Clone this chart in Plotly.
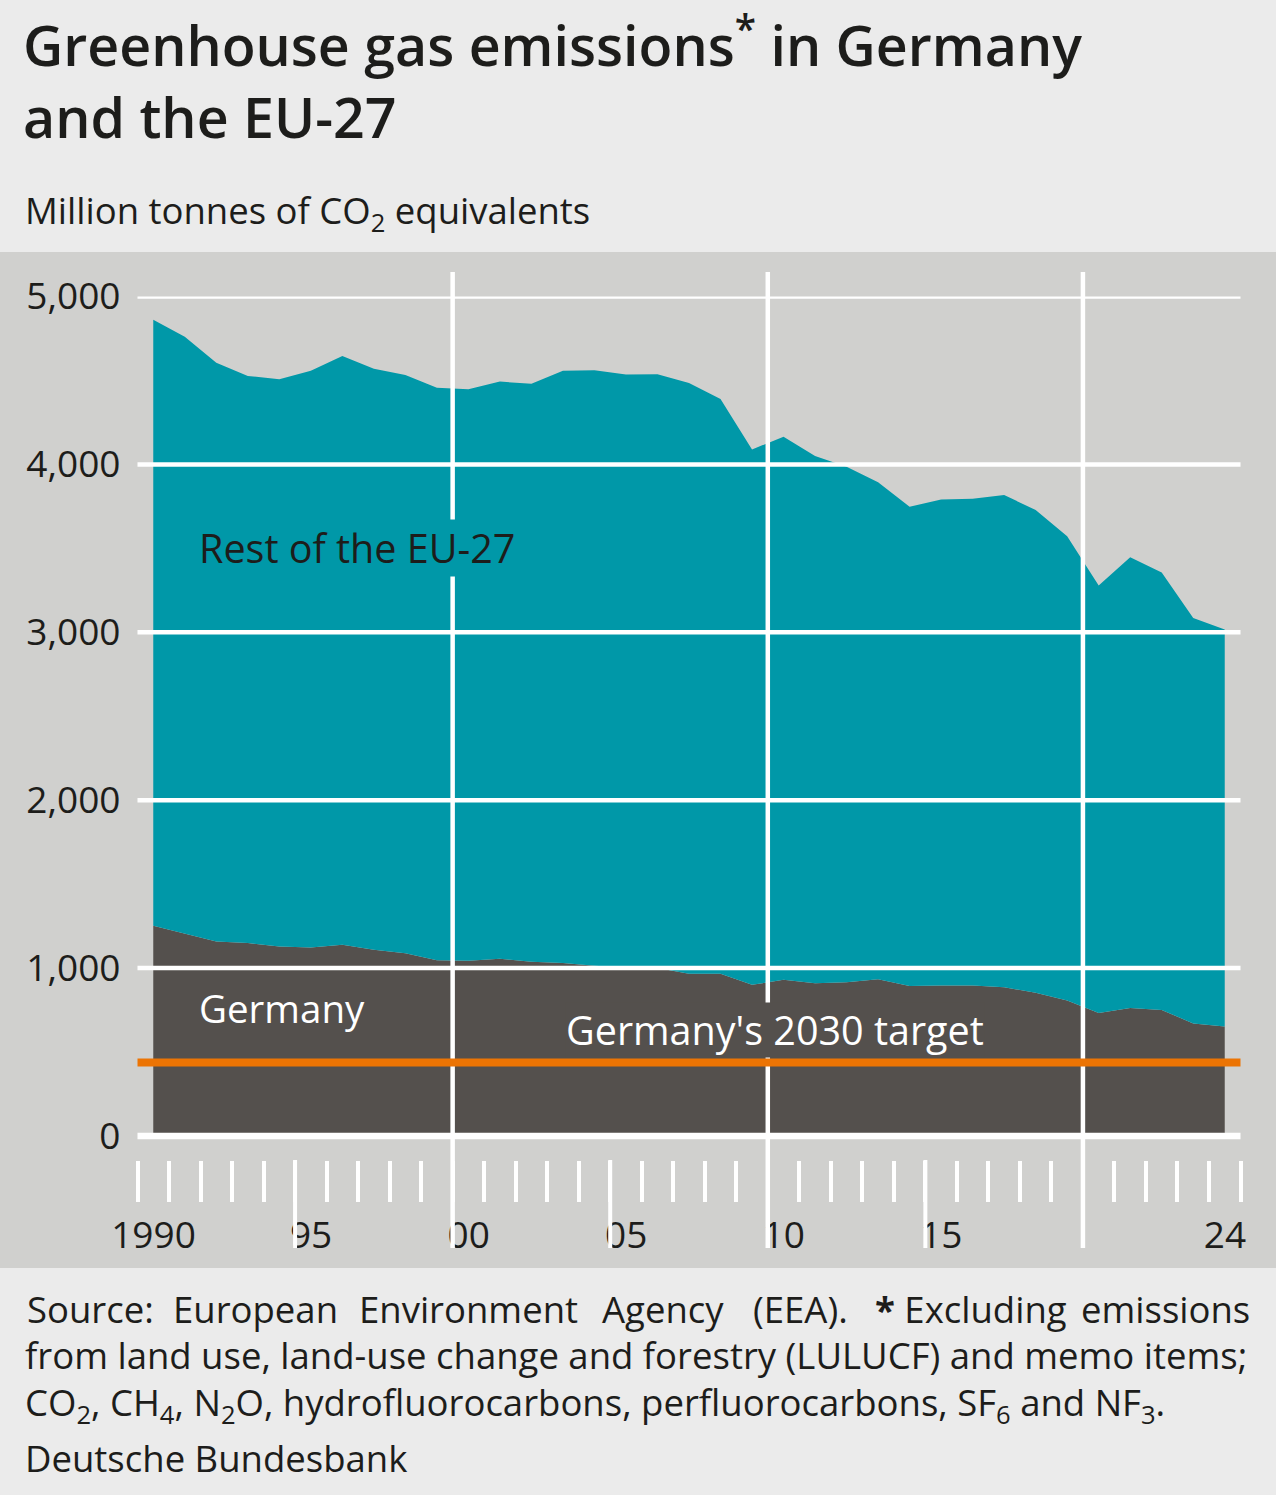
import plotly.graph_objects as go

# EEA data, million tonnes CO2 equivalents
years = list(range(1990, 2025))
eu27_total = [4861, 4761, 4606, 4527, 4507, 4558, 4646, 4570, 4533, 4457,
              4447, 4493, 4481, 4558, 4560, 4535, 4537, 4485, 4390, 4089,
              4165, 4050, 3986, 3893, 3747, 3791, 3795, 3817, 3729, 3572,
              3278, 3447, 3356, 3085, 3016]
germany = [1252, 1206, 1159, 1149, 1129, 1123, 1139, 1109, 1089, 1046,
           1044, 1055, 1038, 1030, 1014, 1004, 1000, 966, 966, 900,
           930, 910, 916, 934, 894, 896, 896, 886, 853, 807,
           732, 762, 751, 670, 652]
germany_target_2030 = 438

y_ticks = [0, 1000, 2000, 3000, 4000, 5000]
y_text = ["0", "1,000", "2,000", "3,000", "4,000", "5,000"]
label_years = [1990, 1995, 2000, 2005, 2010, 2015, 2024]
label_text = ["1990", "95", "00", "05", "10", "15", "24"]
decade_lines = [2000, 2010, 2020]
long_ticks = [1995, 2005, 2015]

W, H = 1276, 1495
FONT = "Open Sans"
TXT = "#1d1d1b"
TEAL = "#0098a8"
DARK = "#54504d"
PANEL = "#d0d0ce"
LIGHT = "#ebebeb"
ORANGE = "#ec7404"


def py(p):
    # pixel row -> paper fraction
    return 1 - p / H


def px(p):
    return p / W


# values sit in the middle of each year
xs = [y + 0.5 for y in years]

fig = go.Figure()
fig.add_trace(go.Scatter(x=xs, y=germany, mode="lines", line=dict(width=0),
                         fill="tozeroy", fillcolor=DARK, name="Germany",
                         hoverinfo="skip"))
fig.add_trace(go.Scatter(x=xs, y=eu27_total, mode="lines", line=dict(width=0),
                         fill="tonexty", fillcolor=TEAL, name="Rest of the EU-27",
                         hoverinfo="skip"))

shapes = [
    dict(type="rect", xref="paper", yref="paper", x0=0, x1=1, y0=py(244), y1=1,
         fillcolor=LIGHT, line_width=0, layer="below"),
    dict(type="rect", xref="paper", yref="paper", x0=0, x1=1, y0=py(1268), y1=py(252),
         fillcolor=PANEL, line_width=0, layer="below"),
    dict(type="rect", xref="paper", yref="paper", x0=0, x1=1, y0=0, y1=py(1276),
         fillcolor=LIGHT, line_width=0, layer="below"),
]
for v in y_ticks:
    shapes.append(dict(type="line", xref="x domain", yref="y", x0=0, x1=1, y0=v, y1=v,
                       line=dict(color="white", width=6.5 if v == 0 else 4.5),
                       layer="above"))
for d in decade_lines:
    shapes.append(dict(type="line", xref="x", yref="paper", x0=d, x1=d,
                       y0=py(1248), y1=py(272),
                       line=dict(color="white", width=4.5), layer="above"))
for t in long_ticks:
    shapes.append(dict(type="line", xref="x", yref="paper", x0=t, x1=t,
                       y0=py(1248), y1=py(1160),
                       line=dict(color="white", width=4), layer="above"))
shapes.append(dict(type="line", xref="x domain", yref="y", x0=0, x1=1,
                   y0=germany_target_2030, y1=germany_target_2030,
                   line=dict(color=ORANGE, width=8), layer="above"))

ann = []
ann.append(dict(text="Rest of the EU-27", x=1991.9, y=3500, xanchor="left", yanchor="middle",
                font=dict(size=39.5, color=TXT, weight=500), bgcolor=TEAL, borderpad=1))
ann.append(dict(text="Germany", x=1991.9, y=762, xanchor="left", yanchor="middle",
                font=dict(size=38.5, color="white", weight=500)))
ann.append(dict(text="Germany's 2030 target", x=2003.55, y=630, xanchor="left",
                yanchor="middle", font=dict(size=39.5, color="white", weight=500),
                bgcolor=DARK, borderpad=0))

# title block
ann.append(dict(text="Greenhouse gas emissions<sup>*</sup> in Germany", xref="paper", yref="paper",
                x=px(21), y=py(41), xanchor="left", yanchor="middle",
                font=dict(size=55.5, color=TXT, weight=600)))
ann.append(dict(text="and the EU-27", xref="paper", yref="paper",
                x=px(21), y=py(117), xanchor="left", yanchor="middle",
                font=dict(size=55.5, color=TXT, weight=600)))
ann.append(dict(text="Million tonnes of CO<sub>2</sub> equivalents", xref="paper", yref="paper",
                x=px(23), y=py(212), xanchor="left", yanchor="middle",
                font=dict(size=36.5, color=TXT)))

# footer, first line spread like justified text
row1 = [("Source:", 25, "left"), ("European", 255.5, "center"),
        ("Environment", 468, "center"), ("Agency", 663.5, "center"),
        ("(EEA).", 800, "center"), ("<b>*</b> Excluding", 970.5, "center"),
        ("emissions", 1252, "right")]
for word, xp, anc in row1:
    ann.append(dict(text=word, xref="paper", yref="paper", x=px(xp), y=py(1309),
                    xanchor=anc, yanchor="middle", font=dict(size=36.5, color=TXT)))
footer_body = ("from land use, land-use change and forestry (LULUCF) and memo items;<br>"
               "CO<sub>2</sub>, CH<sub>4</sub>, N<sub>2</sub>O, hydrofluorocarbons, "
               "perfluorocarbons, SF<sub>6</sub> and NF<sub>3</sub>.")
ann.append(dict(text=footer_body, xref="paper", yref="paper", x=px(23), y=py(1380),
                xanchor="left", yanchor="middle", align="left",
                font=dict(size=36.5, color=TXT)))
ann.append(dict(text="Deutsche Bundesbank", xref="paper", yref="paper", x=px(23), y=py(1458),
                xanchor="left", yanchor="middle", font=dict(size=36.5, color=TXT)))

for a in ann:
    a["showarrow"] = False

fig.update_layout(
    width=W, height=H,
    margin=dict(l=0, r=0, t=0, b=0, autoexpand=False),
    paper_bgcolor=LIGHT, plot_bgcolor="rgba(0,0,0,0)",
    font=dict(family=FONT, color=TXT),
    showlegend=False,
    shapes=shapes, annotations=ann,
    xaxis=dict(range=[1990, 2025], domain=[px(137.5), px(1240.5)], automargin=False,
               tickmode="array", tickvals=label_years, ticktext=label_text,
               ticks="outside", ticklen=41, tickwidth=4, tickcolor="white",
               ticklabelshift=16, ticklabelstandoff=2,
               tickfont=dict(size=37, color=TXT),
               minor=dict(tickmode="array", tickvals=list(range(1990, 2026)),
                          ticks="outside", ticklen=41, tickwidth=4, tickcolor="white"),
               showgrid=False, zeroline=False, showline=False, fixedrange=True),
    yaxis=dict(range=[-143.1, 5000], domain=[py(1160), py(296.5)], automargin=False,
               tickmode="array", tickvals=y_ticks, ticktext=y_text,
               ticks="", ticklabelstandoff=16,
               tickfont=dict(size=37, color=TXT),
               showgrid=False, zeroline=False, showline=False, fixedrange=True),
)

# drop the browser's default page margin so the figure fills the window
fig.write_html("out.html", config={"displayModeBar": False},
               post_script="document.body.style.margin = '0';")
